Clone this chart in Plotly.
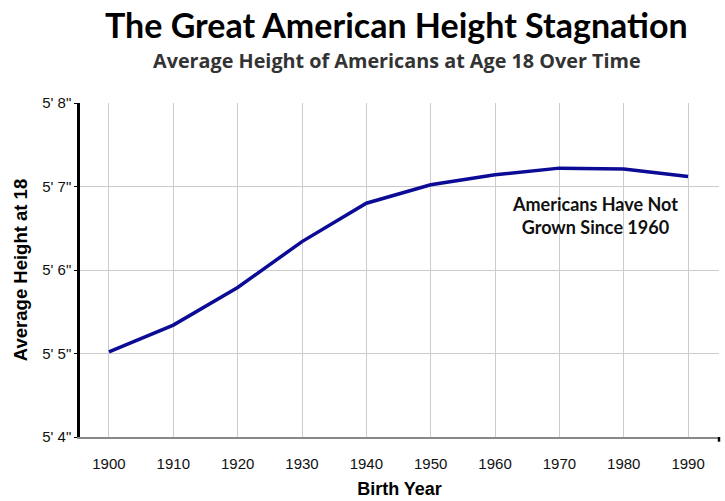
import plotly.graph_objects as go

years = [1900, 1910, 1920, 1930, 1940, 1950, 1960, 1970, 1980, 1990]
height_in = [65.02, 65.34, 65.79, 66.34, 66.80, 67.02, 67.14, 67.22, 67.21, 67.12]
ytick_vals = [64, 65, 66, 67, 68]
ytick_text = ["5' 4\"", "5' 5\"", "5' 6\"", "5' 7\"", "5' 8\""]
xtick_vals = years

fig = go.Figure()
fig.add_trace(go.Scatter(x=years, y=height_in, mode="lines",
                         line=dict(color="#0b0b96", width=3.5),
                         hoverinfo="x+y", showlegend=False))

fig.add_annotation(x=1975.5, y=66.65, xref="x", yref="y",
                   text="Americans Have Not<br>Grown Since 1960",
                   showarrow=False, align="center",
                   font=dict(family="Lato", size=18, color="#111", weight="bold"))

fig.add_annotation(x=0.5, y=1, xref="paper", yref="paper", xanchor="center", yanchor="top",
                   text="The Great American Height Stagnation",
                   xshift=-3, yshift=101, showarrow=False,
                   font=dict(family="Lato", size=34, color="#000", weight="bold"))
fig.add_annotation(x=0.5, y=1, xref="paper", yref="paper", xanchor="center", yanchor="top",
                   text="Average Height of Americans at Age 18 Over Time",
                   xshift=-3, yshift=58, showarrow=False,
                   font=dict(family="Open Sans", size=19.8, color="#333", weight="bold"))

# small black end tick on the x axis
fig.add_shape(type="line", xref="paper", yref="paper", x0=1, x1=1, y0=0, y1=-0.014,
              line=dict(color="#000", width=2.5))

fig.update_layout(
    width=725, height=501,
    margin=dict(l=80, r=6, t=103, b=64),
    paper_bgcolor="white", plot_bgcolor="white",
    xaxis=dict(range=[1895.5, 1994.8], tickvals=xtick_vals,
               ticktext=[str(v) for v in xtick_vals],
               showgrid=True, gridcolor="#cccccc", gridwidth=1,
               showline=True, linecolor="#888888", linewidth=2,
               ticks="", zeroline=False, ticklabelstandoff=12, automargin=False,
               tickfont=dict(family="Liberation Sans", size=15, color="#111"),
               title=dict(text="Birth Year", standoff=11,
                          font=dict(family="Liberation Sans", size=18, color="#000", weight="bold"))),
    yaxis=dict(range=[64, 68], tickvals=ytick_vals, ticktext=ytick_text,
               showgrid=True, gridcolor="#cccccc", gridwidth=1,
               showline=True, linecolor="#000000", linewidth=2.5,
               ticks="outside", ticklen=3, tickcolor="#000", zeroline=False, automargin=False,
               tickfont=dict(family="Liberation Sans", size=15, color="#111"),
               title=dict(text="Average Height at 18", standoff=10,
                          font=dict(family="Liberation Sans", size=18.5, color="#000", weight="bold"))),
)

fig.write_html("out.html")
